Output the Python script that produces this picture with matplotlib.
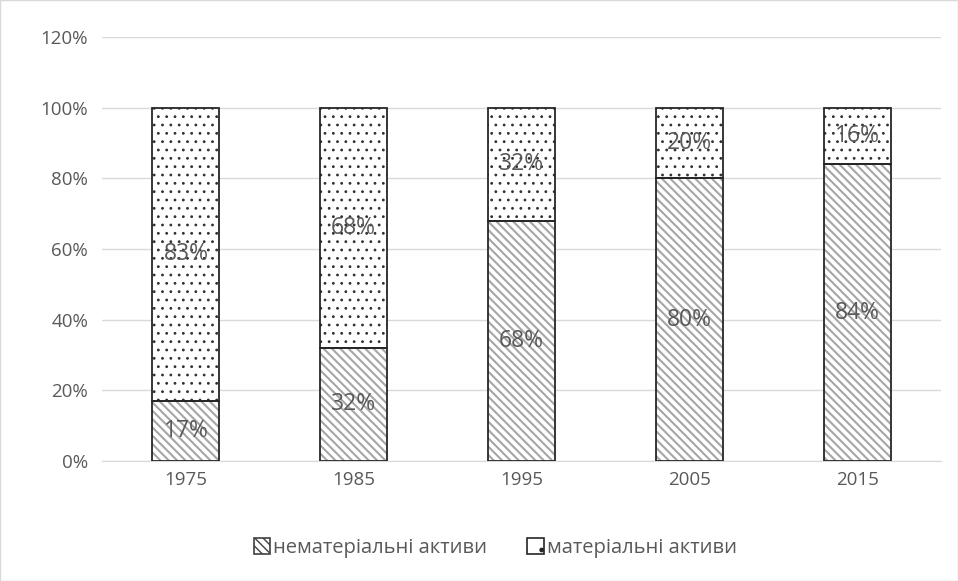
import numpy as np
import matplotlib.pyplot as plt
from matplotlib.patches import Patch, Rectangle

years = ['1975', '1985', '1995', '2005', '2015']
intangible = [17, 32, 68, 80, 84]
tangible = [83, 68, 32, 20, 16]
y_ticks = [0, 20, 40, 60, 80, 100, 120]

txt = '#595959'
plt.rcParams['font.family'] = ['Open Sans', 'DejaVu Sans']

fig = plt.figure(figsize=(9.58, 5.81), dpi=100)
ax = fig.add_axes([0.1065, 0.2065, 0.8758, 0.7298])
fig.patches.append(Rectangle((0, 0), 1, 1, transform=fig.transFigure, fill=False,
                             edgecolor='#d9d9d9', linewidth=1))

x = np.arange(len(years))
w = 0.4

# hatched fills (hatch colour follows edgecolor), then black outlines on top
with plt.rc_context({'hatch.linewidth': 1.5}):
    ax.bar(x, intangible, w, color='white', edgecolor='#a6a6a6', hatch='\\\\\\\\', linewidth=0, zorder=2)
    h1 = Patch(facecolor='white', edgecolor='#404040', hatch='\\\\\\\\', linewidth=1.2)
with plt.rc_context({'hatch.linewidth': 0.8}):
    ax.bar(x, tangible, w, bottom=intangible, color='white', edgecolor='#303030', hatch='..', linewidth=0, zorder=2)
    h2 = Patch(facecolor='white', edgecolor='#262626', hatch='.', linewidth=1.2)
ax.bar(x, intangible, w, fill=False, edgecolor='#262626', linewidth=1.3, zorder=3)
ax.bar(x, tangible, w, bottom=intangible, fill=False, edgecolor='#262626', linewidth=1.3, zorder=3)

for i in range(len(years)):
    ax.text(x[i], intangible[i] / 2, f'{intangible[i]}%', ha='center', va='center',
            fontsize=16.5, color=txt, zorder=4)
    ax.text(x[i], intangible[i] + tangible[i] / 2, f'{tangible[i]}%', ha='center', va='center',
            fontsize=16.5, color=txt, zorder=4)

ax.set_xlim(-0.5, len(years) - 0.5)
ax.set_ylim(0, 120)
ax.set_yticks(y_ticks)
ax.set_yticklabels([f'{t}%' for t in y_ticks])
ax.set_xticks(x)
ax.set_xticklabels(years)
ax.tick_params(axis='both', length=0, labelsize=13.5, labelcolor=txt, pad=7)
ax.tick_params(axis='y', pad=10)
ax.grid(axis='y', color='#d9d9d9', linewidth=1, zorder=0)
ax.set_axisbelow(True)
for s in ['top', 'right', 'left']:
    ax.spines[s].set_visible(False)
ax.spines['bottom'].set_color('#d9d9d9')

fig.legend([h1, h2], ['нематеріальні активи', 'матеріальні активи'], loc='center',
           bbox_to_anchor=(0.517, 0.057), ncol=2, frameon=False, fontsize=14.5,
           labelcolor=txt, handlelength=0.8, handleheight=0.8, handletextpad=0.15,
           columnspacing=2.0)

fig.savefig('out.png', dpi=100)
